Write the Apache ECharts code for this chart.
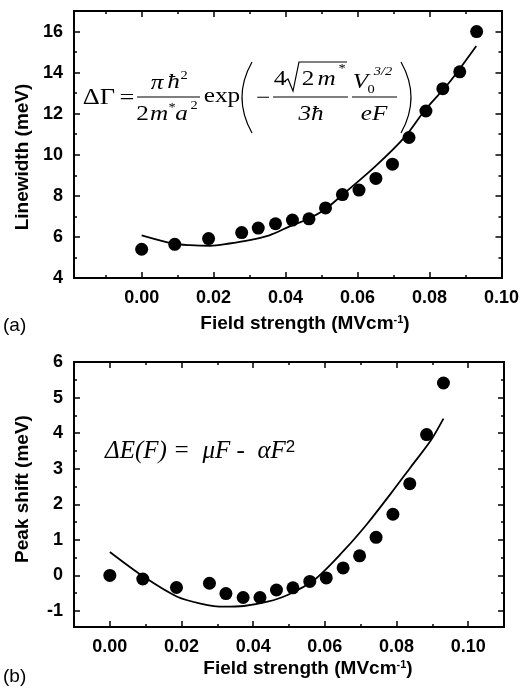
<!DOCTYPE html>
<html>
<head>
<meta charset="utf-8">
<script src="https://cdn.jsdelivr.net/npm/echarts@6/dist/echarts.min.js"></script>
<style>
html,body{margin:0;padding:0;background:#fff;}
#chart{width:522px;height:689px;}
</style>
</head>
<body>
<div id="chart"></div>
<script>
// ---- data ----
const fieldStrength = [0, 0.0092, 0.0186, 0.0278, 0.0324, 0.0372, 0.0419, 0.0465, 0.0511, 0.0558, 0.0604, 0.0651, 0.0697, 0.0743, 0.0790, 0.0837, 0.0884, 0.0931];
const linewidth = [5.40, 5.64, 5.92, 6.21, 6.43, 6.64, 6.82, 6.88, 7.41, 8.06, 8.28, 8.85, 9.54, 10.84, 12.13, 13.22, 14.04, 16.0];
const peakShift = [0, -0.10, -0.34, -0.22, -0.51, -0.62, -0.62, -0.41, -0.35, -0.17, -0.07, 0.21, 0.55, 1.07, 1.72, 2.58, 3.96, 5.41];

const linewidthFitF = [0, 0.0087, 0.0134, 0.019, 0.0244, 0.030, 0.0355, 0.041, 0.0465, 0.051, 0.0558, 0.065, 0.0733, 0.0788, 0.0853, 0.093];
const linewidthFit = [6.08, 5.68, 5.60, 5.57, 5.68, 5.84, 6.08, 6.50, 6.90, 7.35, 8.05, 9.45, 10.90, 12.19, 13.48, 15.30];

const peakShiftFitF = [0, 0.0095, 0.0188, 0.0253, 0.0318, 0.0374, 0.044, 0.0496, 0.057, 0.0654, 0.0719, 0.0784, 0.084, 0.0896, 0.0931];
const peakShiftFit = [0.66, -0.04, -0.60, -0.79, -0.88, -0.86, -0.74, -0.55, -0.13, 0.71, 1.46, 2.30, 3.05, 3.80, 4.41];

const xMajorTicks = [0, 0.02, 0.04, 0.06, 0.08, 0.10];
const xMinorTicksA = [-0.01, 0.01, 0.03, 0.05, 0.07, 0.09];
const xMinorTicksB = [0.01, 0.03, 0.05, 0.07, 0.09];
const linewidthTicks = [4, 6, 8, 10, 12, 14, 16];
const linewidthMinorTicks = [5, 7, 9, 11, 13, 15];
const peakShiftTicks = [-1, 0, 1, 2, 3, 4, 5, 6];
const peakShiftMinorTicks = [-0.5, 0.5, 1.5, 2.5, 3.5, 4.5, 5.5];

// ---- helpers ----
const zip = (a, b) => a.map((v, i) => [v, b[i]]);
const LABEL_FONT = {fontFamily: 'Liberation Sans', fontWeight: 'bold', fontSize: 18, color: '#000'};

function makeAxis(gridIndex, min, max, position, ticks, tickLen, labels, fmt) {
  return {
    type: 'value', gridIndex, min, max, position,
    axisLine: {show: true, onZero: false, lineStyle: {color: '#000', width: 2}},
    axisTick: {show: true, inside: true, length: tickLen, customValues: ticks, lineStyle: {color: '#000', width: 1.5}},
    axisLabel: labels ? Object.assign({show: true, customValues: ticks, margin: 11, formatter: fmt}, LABEL_FONT) : {show: false},
    splitLine: {show: false},
    minorTick: {show: false}
  };
}
const fx = v => v.toFixed(2);
const fy = v => String(v);

const XA = [-0.0188, 0.10], XB = [-0.01, 0.11];
const YA = [4, 17], YB = [-1.45, 6];

const xAxis = [
  makeAxis(0, XA[0], XA[1], 'bottom', xMajorTicks, 6, true, fx),
  makeAxis(0, XA[0], XA[1], 'bottom', xMinorTicksA, 3, false),
  makeAxis(0, XA[0], XA[1], 'top', xMajorTicks, 6, false),
  makeAxis(0, XA[0], XA[1], 'top', xMinorTicksA, 3, false),
  makeAxis(1, XB[0], XB[1], 'bottom', xMajorTicks, 6, true, fx),
  makeAxis(1, XB[0], XB[1], 'bottom', xMinorTicksB, 3, false),
  makeAxis(1, XB[0], XB[1], 'top', xMajorTicks, 6, false),
  makeAxis(1, XB[0], XB[1], 'top', xMinorTicksB, 3, false)
];
const yAxis = [
  makeAxis(0, YA[0], YA[1], 'left', linewidthTicks, 6, true, fy),
  makeAxis(0, YA[0], YA[1], 'left', linewidthMinorTicks, 3, false),
  makeAxis(0, YA[0], YA[1], 'right', linewidthTicks, 6, false),
  makeAxis(0, YA[0], YA[1], 'right', linewidthMinorTicks, 3, false),
  makeAxis(1, YB[0], YB[1], 'left', peakShiftTicks, 6, true, fy),
  makeAxis(1, YB[0], YB[1], 'left', peakShiftMinorTicks, 3, false),
  makeAxis(1, YB[0], YB[1], 'right', peakShiftTicks, 6, false),
  makeAxis(1, YB[0], YB[1], 'right', peakShiftMinorTicks, 3, false)
];

const DOT = {color: '#000', opacity: 1};
const series = [
  {type: 'line', xAxisIndex: 0, yAxisIndex: 0, data: zip(linewidthFitF, linewidthFit), showSymbol: false, smooth: 0.3, lineStyle: {color: '#000', width: 1.8}},
  {type: 'scatter', xAxisIndex: 0, yAxisIndex: 0, data: zip(fieldStrength, linewidth), symbolSize: 13, itemStyle: DOT},
  {type: 'line', xAxisIndex: 4, yAxisIndex: 4, data: zip(peakShiftFitF, peakShiftFit), showSymbol: false, smooth: 0.3, lineStyle: {color: '#000', width: 1.8}},
  {type: 'scatter', xAxisIndex: 4, yAxisIndex: 4, data: zip(fieldStrength, peakShift), symbolSize: 13, itemStyle: DOT}
];

// ---- annotation text ----
const SERIF = 'Liberation Serif';
function txt(x, y, text, size, italic, sx) {
  return {type: 'text', x, y, scaleX: sx || 1.2,
    style: {text, fontFamily: SERIF, fontSize: size, fontStyle: italic ? 'italic' : 'normal', fill: '#000', align: 'center', verticalAlign: 'middle'}};
}
function hline(x1, x2, y) {
  return {type: 'line', shape: {x1, y1: y, x2, y2: y}, style: {stroke: '#000', lineWidth: 1.2}};
}
const titleRich = {
  a: {fontFamily: 'Liberation Sans', fontWeight: 'bold', fontSize: 19, fill: '#000'},
  s: {fontFamily: 'Liberation Sans', fontWeight: 'bold', fontSize: 11, fill: '#000', verticalAlign: 'top'}
};
const graphic = [
  // axis titles
  {type: 'text', x: 23, y: 157, rotation: Math.PI / 2, style: {text: 'Linewidth (meV)', fontFamily: 'Liberation Sans', fontWeight: 'bold', fontSize: 19, fill: '#000', align: 'center', verticalAlign: 'middle'}},
  {type: 'text', x: 23, y: 489, rotation: Math.PI / 2, style: {text: 'Peak shift (meV)', fontFamily: 'Liberation Sans', fontWeight: 'bold', fontSize: 19, fill: '#000', align: 'center', verticalAlign: 'middle'}},
  {type: 'text', x: 305, y: 324, style: {text: '{a|Field strength (MVcm}{s|-1}{a|)}', rich: titleRich, align: 'center', verticalAlign: 'middle'}},
  {type: 'text', x: 308, y: 669, style: {text: '{a|Field strength (MVcm}{s|-1}{a|)}', rich: titleRich, align: 'center', verticalAlign: 'middle'}},
  {type: 'text', x: 3, y: 326, style: {text: '(a)', fontFamily: 'Liberation Sans', fontSize: 19, fill: '#000', align: 'left', verticalAlign: 'middle'}},
  {type: 'text', x: 3, y: 677, style: {text: '(b)', fontFamily: 'Liberation Sans', fontSize: 19, fill: '#000', align: 'left', verticalAlign: 'middle'}},

  // top formula
  txt(99, 98, 'ΔΓ', 23, false, 1.15),
  txt(127, 98, '=', 22),
  txt(157, 83, 'π', 21, true),
  txt(173.5, 82, 'ħ', 21, true),
  txt(184, 76, '2', 12),
  hline(137, 200, 97),
  txt(142.5, 114, '2', 21),
  txt(159, 114, 'm', 21, true),
  txt(172, 108, '*', 12),
  txt(181.5, 114, 'a', 21, true),
  txt(194, 106, '2', 12),
  txt(222, 96, 'exp', 22, false, 1.15),
  {type: 'bezierCurve', shape: {x1: 252, y1: 62, x2: 252, y2: 133, cpx1: 232, cpy1: 97.5}, style: {stroke: '#000', lineWidth: 1.2, fill: null}},
  txt(263, 98, '−', 21),
  txt(280, 79, '4', 21),
  {type: 'polyline', shape: {points: [[285, 81], [288, 79], [293, 91], [299, 62], [347, 62]]}, style: {stroke: '#000', lineWidth: 1.2, fill: null}},
  txt(308, 79, '2', 21),
  txt(326.5, 79, 'm', 21, true),
  txt(342, 69, '*', 12),
  hline(273, 348, 97),
  txt(311, 114, '3ħ', 21, true),
  txt(360.5, 82, 'V', 21, true),
  txt(371, 90, '0', 12),
  txt(383, 72, '3/2', 12, true),
  hline(352, 397, 97),
  txt(374, 114, 'eF', 21, true),
  {type: 'bezierCurve', shape: {x1: 401, y1: 62, x2: 401, y2: 133, cpx1: 421, cpy1: 97.5}, style: {stroke: '#000', lineWidth: 1.2, fill: null}},

  // bottom formula
  {type: 'text', x: 105, y: 451, style: {
    text: '{i|ΔE(F) =  μF -  αF}{s|2}', align: 'left', verticalAlign: 'middle',
    rich: {
      i: {fontFamily: SERIF, fontStyle: 'italic', fontSize: 25, fill: '#000'},
      s: {fontFamily: 'Liberation Sans', fontSize: 17, fill: '#000', verticalAlign: 'top'}
    }}}
];

const chart = echarts.init(document.getElementById('chart'), null, {renderer: 'canvas'});
chart.setOption({
  animation: false,
  backgroundColor: '#fff',
  grid: [
    {left: 74, top: 11, width: 429, height: 267},
    {left: 74, top: 362, width: 430, height: 265}
  ],
  xAxis, yAxis, series, graphic
});
</script>
</body>
</html>
